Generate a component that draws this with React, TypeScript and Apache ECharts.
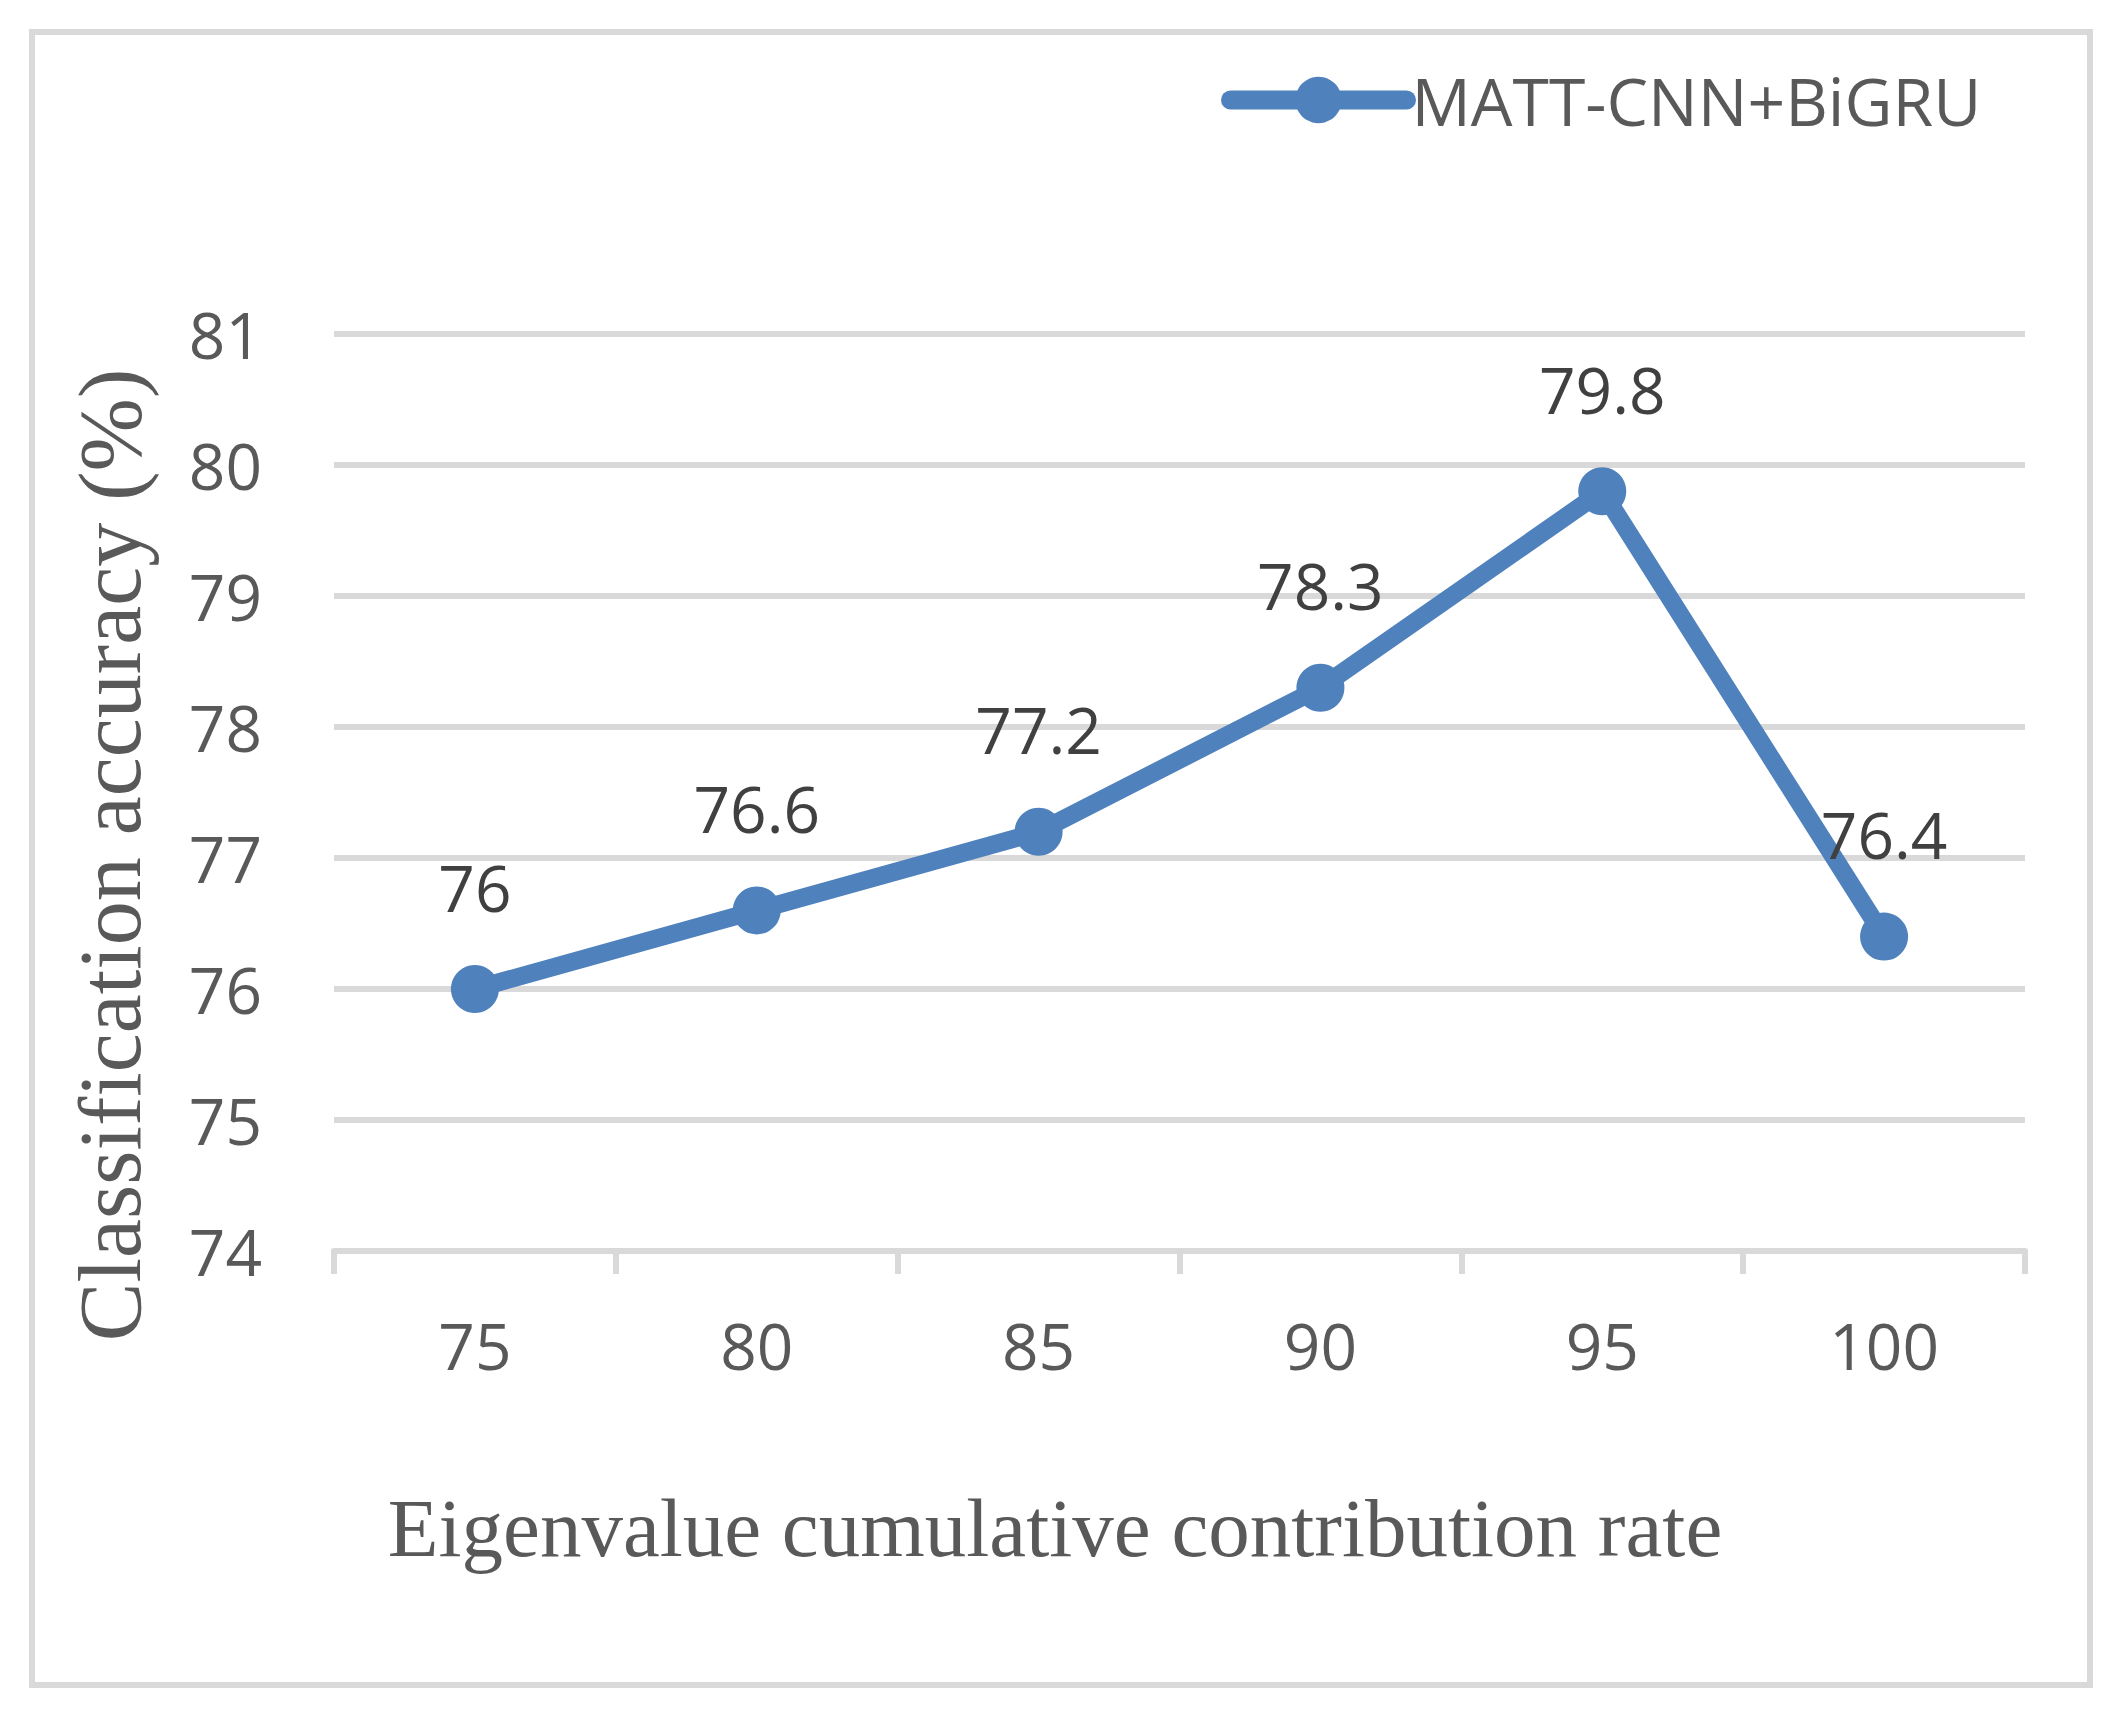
import React, { useEffect, useRef } from "react";
import * as echarts from "echarts";

const categories = ["75", "80", "85", "90", "95", "100"];
const accuracy = [76, 76.6, 77.2, 78.3, 79.8, 76.4];
const seriesName = "MATT-CNN+BiGRU";
const xTitle = "Eigenvalue cumulative contribution rate";
const yTitle = "Classification accuracy (%)";
const yMin = 74;
const yMax = 81;
const yInterval = 1;

export default function App() {
  const ref = useRef<HTMLDivElement>(null);
  useEffect(() => {
    if (!ref.current) return;
    const chart = echarts.init(ref.current, null, { renderer: "svg" });
    const blue = "#4f81bd";
    const grey = "#d9d9d9";
    chart.setOption({
      animation: false,
      backgroundColor: "#ffffff",
      grid: { left: 334, right: 95, top: 334, bottom: 462, containLabel: false },
      legend: {
        left: 1221,
        top: 67,
        padding: 0,
        itemWidth: 176,
        itemHeight: 58,
        textStyle: { fontFamily: "Open Sans", fontSize: 66, color: "#595959" },
        lineStyle: { width: 19, cap: "round" },
        data: [seriesName],
      },
      xAxis: {
        type: "category",
        data: categories,
        boundaryGap: true,
        axisLine: { show: true, lineStyle: { color: grey, width: 6 } },
        axisTick: { show: true, length: 23, lineStyle: { color: grey, width: 6 } },
        axisLabel: { fontFamily: "Open Sans", fontSize: 64, color: "#595959", margin: 62 },
        splitLine: { show: false },
      },
      yAxis: {
        type: "value",
        min: yMin,
        max: yMax,
        interval: yInterval,
        axisLine: { show: false },
        axisTick: { show: false },
        axisLabel: { fontFamily: "Open Sans", fontSize: 64, color: "#595959", margin: 72 },
        splitLine: { show: true, lineStyle: { color: grey, width: 6 } },
      },
      series: [
        {
          name: seriesName,
          type: "line",
          data: accuracy,
          symbol: "circle",
          symbolSize: 48,
          lineStyle: { color: blue, width: 18, cap: "round" },
          itemStyle: { color: blue },
          label: {
            show: true,
            position: "top",
            distance: 46,
            fontFamily: "Open Sans",
            fontSize: 64,
            color: "#404040",
          },
        },
      ],
      graphic: [
        {
          type: "rect",
          shape: { x: 32, y: 32, width: 2058, height: 1653 },
          style: { fill: "none", stroke: grey, lineWidth: 6 },
          silent: true,
        },
        {
          type: "text",
          x: 1055,
          y: 1528,
          style: {
            text: xTitle,
            fontFamily: "Liberation Serif",
            fontSize: 83,
            fill: "#595959",
            align: "center",
            verticalAlign: "middle",
          },
        },
        {
          type: "text",
          x: 110,
          y: 855,
          rotation: Math.PI / 2,
          style: {
            text: yTitle,
            fontFamily: "Liberation Serif",
            fontSize: 88,
            fill: "#595959",
            align: "center",
            verticalAlign: "middle",
          },
        },
      ],
    });
    return () => chart.dispose();
  }, []);
  return (
    <div
      ref={ref}
      style={{ position: "fixed", left: 0, top: 0, width: 2120, height: 1713 }}
    />
  );
}
